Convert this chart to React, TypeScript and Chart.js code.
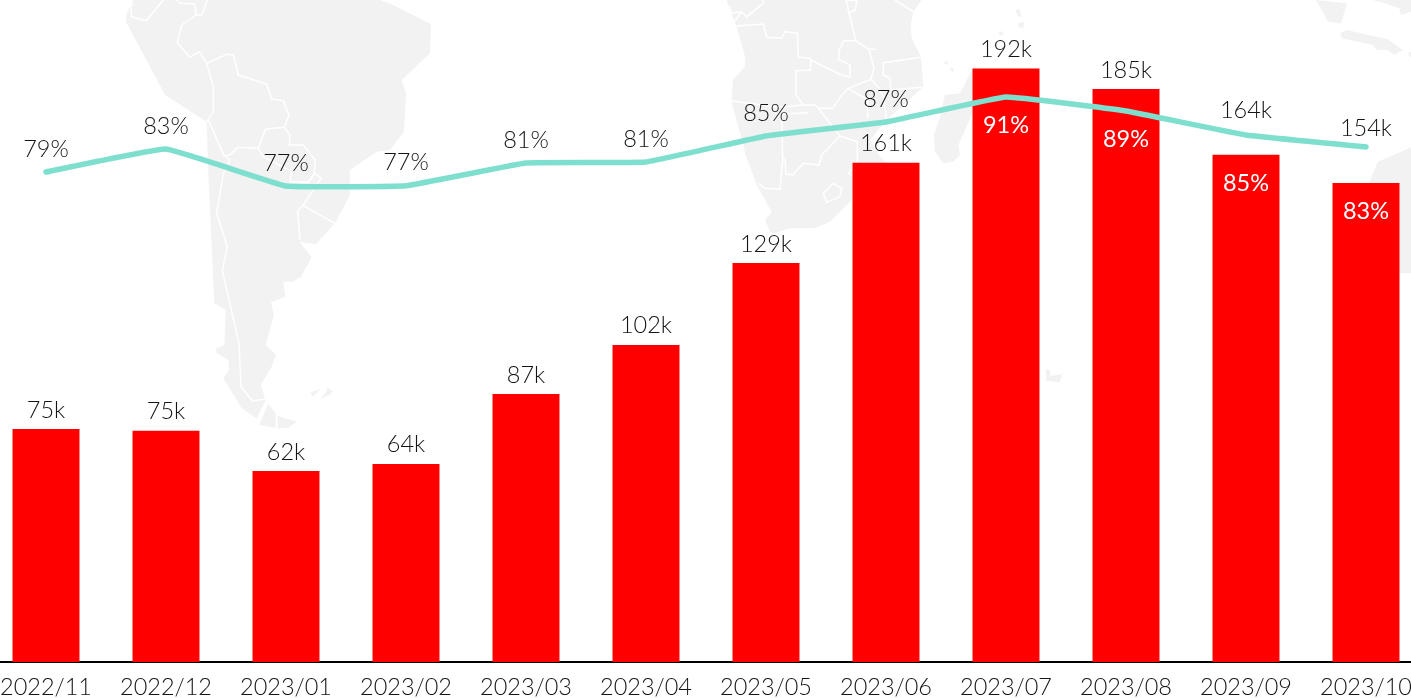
import React, { useEffect, useRef } from "react";
import { Chart, registerables } from "chart.js";

Chart.register(...registerables);

const months = ["2022/11","2022/12","2023/01","2023/02","2023/03","2023/04","2023/05","2023/06","2023/07","2023/08","2023/09","2023/10"];
const volumes = [75.4,74.8,61.8,64.1,86.7,102.6,129.1,161.5,192,185.4,164.1,155];
const volumeLabels = ["75k","75k","62k","64k","87k","102k","129k","161k","192k","185k","164k","154k"];
const rates = [78.99,82.82,76.66,76.7,80.49,80.66,84.99,87.32,91.49,89.16,85.16,83.16];
const rateLabels = ["79%","83%","77%","77%","81%","81%","85%","87%","91%","89%","85%","83%"];

const FONT_FAMILY = 'Lato, "Noto Sans", sans-serif';
const INK = "#141414";
const LAND = "#f2f2f2";

const labelPlugin = {
  id: "valueLabels",
  afterDatasetsDraw(chart: any) {
    const { ctx, scales } = chart;
    const { x, y, y1 } = scales;
    ctx.save();
    ctx.textAlign = "center";
    ctx.textBaseline = "middle";
    months.forEach((_, i) => {
      const cx = x.getPixelForValue(i);
      const top = y.getPixelForValue(volumes[i]);
      const lineY = y1.getPixelForValue(rates[i]);
      // rate label: above the line, or inside the bar for the last four months
      const inside = i >= 8;
      ctx.font = `${inside ? 400 : 300} 23.5px ${FONT_FAMILY}`;
      ctx.fillStyle = inside ? "#ffffff" : INK;
      const rateY = inside ? Math.max(lineY, top) + 28.5 : lineY - 23;
      ctx.fillText(rateLabels[i], cx, rateY);
      // volume label: above the bar, pushed above the line for the last two months
      ctx.font = `300 23.5px ${FONT_FAMILY}`;
      ctx.fillStyle = INK;
      let labelY = top - 19;
      if (i === 10) labelY = lineY - 25;
      if (i === 11) labelY = lineY - 19;
      ctx.fillText(volumeLabels[i], cx, labelY);
    });
    ctx.restore();
  },
};

function WorldMap() {
  const land = { fill: LAND, stroke: "none" };
  const border = { fill: "none", stroke: "#ffffff", strokeWidth: 4.5, strokeLinejoin: "round" as const };
  return (
    <svg width={1411} height={698} style={{ position: "absolute", left: 0, top: 0 }}>
      <g transform="translate(100,0) scale(0.33333)">
        <path {...land} d="M100,0 L80,40 L78,65 L195,285 L320,365 L325,520 L343,910 L377,930 L373,1035 L348,1045 L350,1060 L385,1080 L387,1110 L370,1135 L425,1225 L470,1255 L497,1200 L482,1155 L515,1100 L528,1065 L497,1035 L522,945 L513,907 L556,890 L550,845 L578,845 L603,830 L635,772 L598,725 L648,732 L705,670 L750,585 L750,510 L830,455 L870,450 L912,395 L918,280 L905,240 L990,160 L993,72 L880,15 L840,0 Z" />
        <path {...land} d="M630,1178 L660,1167 L640,1190 Z M680,1160 L698,1173 L690,1185 L660,1197 L680,1175 Z M505,1212 L527,1240 L527,1283 L477,1275 Z M533,1247 L590,1265 L565,1283 L533,1285 Z" />
        <path {...border} d="M190,0 L138,62 L95,50 L92,20 L100,10" />
        <path {...border} d="M230,0 L240,10 L285,12 L288,45 L245,75 L232,128 L270,172 L298,155 L320,190 L340,260 L340,335 L320,365" />
        <path {...border} d="M288,45 L305,45 L322,0" />
        <path {...border} d="M320,190 L380,163 L400,165 L415,225 L500,252 L515,297 L550,302 L567,345 L553,382 L497,387 L475,445 L413,442 L390,465 L372,467 L325,360" />
        <path {...border} d="M553,382 L570,405 L568,435 L610,435 L645,480 L643,520 L625,547 L570,545 L575,515 L490,470 L475,445" />
        <path {...border} d="M625,547 L645,520 L663,535 L610,615 L593,632 L600,720" />
        <path {...border} d="M610,617 L705,670" />
        <path {...border} d="M372,467 L390,480 L370,520 L350,640 L382,740 L367,812 L417,1030 L423,1160 L458,1203 L497,1197" />
        <path fill="#ffffff" d="M340,940 L355,930 L357,968 L343,968 Z" />
      </g>
      <g transform="translate(720,0) scale(0.33333)">
        <path {...land} d="M20,0 L30,30 L50,80 L75,170 L75,200 L38,240 L35,310 L72,440 L75,460 L110,555 L155,635 L135,660 L150,695 L165,700 L210,685 L285,685 L330,665 L395,600 L500,530 L500,490 L480,470 L450,420 L500,360 L610,260 L603,170 L575,115 L572,75 L580,35 L605,0 Z" />
        <path {...border} d="M130,0 L130,10 L80,50 L65,35 L35,40 L30,20 M65,35 L40,70" />
        <path {...border} d="M50,78 L130,72 L140,112 L185,115 L195,95 L232,100 L235,172 L272,175 L272,210 L228,212 L228,285 L250,315 L180,322 L35,303" />
        <path {...border} d="M272,180 L365,225 L390,232 L390,195 L355,178 L358,150 L372,122 L407,122 L378,0" />
        <path {...border} d="M380,0 L412,2 L405,30 L385,40" />
        <path {...border} d="M525,0 L580,35" />
        <path {...border} d="M407,122 L447,148 L470,148 M447,148 L462,205 L452,238 L385,265 L365,285 L338,325 L295,325 L285,315 L250,315" />
        <path {...border} d="M452,238 L475,262 L490,290 L500,360 M385,265 L443,300 L443,355" />
        <path {...border} d="M603,172 L490,188 L490,225 L510,235 L512,270 L605,262" />
        <path {...border} d="M295,325 L360,408 L412,425 L412,490 L385,520 L395,525" />
        <path {...border} d="M360,408 L305,465 L297,495 L250,490 L218,525 L198,522 L195,480 L188,478 L180,568 L135,565 L115,550" />
        <path {...border} d="M185,340 L188,478 M265,338 L190,342" />
        <path {...border} d="M310,580 L340,550 L365,565 L360,590 L320,607 Z" />
      </g>
      <g transform="translate(930,0) scale(0.33333)">
        <path {...land} d="M130,200 L100,260 L90,280 L45,285 L30,350 L12,405 L15,455 L40,490 L70,485 L90,465 L85,435 L128,340 L140,200 Z" />
        <path {...land} d="M38,185 L55,185 L52,195 Z M58,205 L72,205 L68,218 Z M255,30 L268,28 L275,50 L265,50 Z M265,68 L282,65 L280,85 L265,82 Z M205,98 L218,93 L222,102 L212,108 Z" />
      </g>
      <g transform="translate(1271,0) scale(0.33333)">
        <path {...land} d="M135,0 L228,10 L210,70 L172,65 Z M305,0 L420,0 L420,35 L390,45 L385,25 L340,10 Z M208,100 L228,90 L350,118 L395,150 L370,165 L350,150 L318,150 L305,135 L212,115 Z M410,160 L420,155 L420,175 Z" />
      </g>
      <g transform="translate(1331,130) scale(0.33333)">
        <path {...land} d="M240,52 L140,95 L110,170 L110,430 L240,430 Z" />
      </g>
      <g transform="translate(1020,350) scale(0.33333)">
        <path {...land} d="M78,58 L90,60 L92,78 L128,72 L118,97 L78,92 Z" />
      </g>
    </svg>
  );
}

export default function App() {
  const ref = useRef<HTMLCanvasElement>(null);
  useEffect(() => {
    const chart = new Chart(ref.current as HTMLCanvasElement, {
      type: "bar",
      data: {
        labels: months,
        datasets: [
          {
            type: "line",
            data: rates,
            yAxisID: "y1",
            borderColor: "#7fdfcf",
            borderWidth: 5.5,
            borderCapStyle: "round",
            borderJoinStyle: "round",
            tension: 0.08,
            pointRadius: 0,
            order: 0,
            clip: false,
          } as any,
          {
            type: "bar",
            data: volumes,
            yAxisID: "y",
            backgroundColor: "#ff0000",
            categoryPercentage: 1,
            barPercentage: 0.558,
            order: 1,
          } as any,
        ],
      },
      options: {
        responsive: false,
        animation: false,
        layout: { padding: 0 },
        plugins: { legend: { display: false }, tooltip: { enabled: false } },
        scales: {
          x: {
            grid: { display: false, drawTicks: false },
            border: { color: "#000000", width: 2 },
            afterFit(scale: any) { scale.height = 36; },
            ticks: {
              color: INK,
              font: { family: FONT_FAMILY, size: 23.5, weight: "300" },
              maxRotation: 0,
              autoSkip: false,
              padding: 11,
            },
          },
          y: { display: false, min: 0, max: 214.2 },
          y1: { display: false, min: -2.68, max: 107.66 },
        },
      },
      plugins: [labelPlugin],
    } as any);
    return () => chart.destroy();
  }, []);
  return (
    <div style={{ position: "fixed", left: 0, top: 0, width: 1411, height: 698, overflow: "hidden", background: "#ffffff" }}>
      <WorldMap />
      <canvas ref={ref} width={1440} height={698} style={{ position: "absolute", left: -14, top: 0, display: "block" }} />
    </div>
  );
}
